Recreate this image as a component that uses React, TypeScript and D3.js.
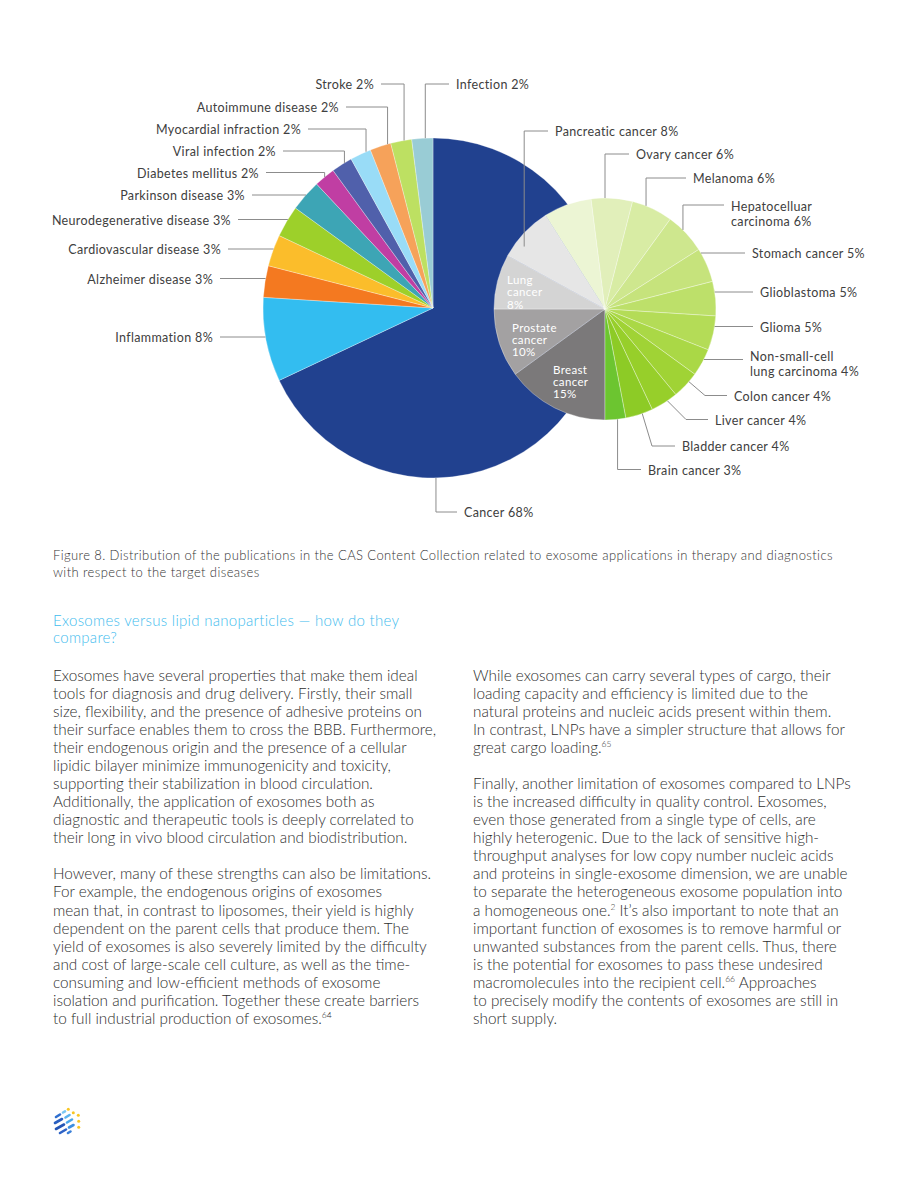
import React from 'react';
import * as d3 from 'd3';

// ---------- DATA ----------
const mainCategories = [
  'Cancer', 'Inflammation', 'Alzheimer disease', 'Cardiovascular disease',
  'Neurodegenerative disease', 'Parkinson disease', 'Diabetes mellitus',
  'Viral infection', 'Myocardial infraction', 'Autoimmune disease', 'Stroke', 'Infection',
];
const mainValues = [68, 8, 3, 3, 3, 3, 2, 2, 2, 2, 2, 2];
const mainColors = [
  '#21418f', '#33bdf0', '#f47920', '#fbbd2b', '#9dd02a', '#3da5b5',
  '#c03ea3', '#5060ab', '#99dcf7', '#f6a25a', '#bde062', '#99ccd5',
];

const subCategories = [
  'Breast cancer', 'Prostate cancer', 'Lung cancer', 'Pancreatic cancer', 'Other cancers',
  'Ovary cancer', 'Melanoma', 'Hepatocelluar carcinoma', 'Stomach cancer', 'Glioblastoma',
  'Glioma', 'Non-small-cell lung carcinoma', 'Colon cancer', 'Liver cancer', 'Bladder cancer',
  'Brain cancer',
];
const subValues = [15, 10, 8, 8, 7, 6, 6, 6, 5, 5, 5, 4, 4, 4, 4, 3];
const subColors = [
  '#7b797a', '#a3a1a2', '#d4d4d4', '#e6e6e6', '#ecf5d4', '#e1efba', '#d8eca4', '#cee78e',
  '#c6e37c', '#bde06a', '#b4dc57', '#aad846', '#a0d335', '#97cf2a', '#8dcb26', '#6cc530',
];

const captionLines = [
  'Figure 8. Distribution of the publications in the CAS Content Collection related to exosome applications in therapy and diagnostics',
  'with respect to the target diseases',
];
const headingLines = ['Exosomes versus lipid nanoparticles \u2014 how do they', 'compare?'];

const leftColumn = [
  'Exosomes have several properties that make them ideal',
  'tools for diagnosis and drug delivery. Firstly, their small',
  'size, flexibility, and the presence of adhesive proteins on',
  'their surface enables them to cross the BBB. Furthermore,',
  'their endogenous origin and the presence of a cellular',
  'lipidic bilayer minimize immunogenicity and toxicity,',
  'supporting their stabilization in blood circulation.',
  'Additionally, the application of exosomes both as',
  'diagnostic and therapeutic tools is deeply correlated to',
  'their long in vivo blood circulation and biodistribution.',
  '',
  'However, many of these strengths can also be limitations.',
  'For example, the endogenous origins of exosomes',
  'mean that, in contrast to liposomes, their yield is highly',
  'dependent on the parent cells that produce them. The',
  'yield of exosomes is also severely limited by the difficulty',
  'and cost of large-scale cell culture, as well as the time-',
  'consuming and low-efficient methods of exosome',
  'isolation and purification. Together these create barriers',
  'to full industrial production of exosomes.^64',
];
const rightColumn = [
  'While exosomes can carry several types of cargo, their',
  'loading capacity and efficiency is limited due to the',
  'natural proteins and nucleic acids present within them.',
  'In contrast, LNPs have a simpler structure that allows for',
  'great cargo loading.^65',
  '',
  'Finally, another limitation of exosomes compared to LNPs',
  'is the increased difficulty in quality control. Exosomes,',
  'even those generated from a single type of cells, are',
  'highly heterogenic. Due to the lack of sensitive high-',
  'throughput analyses for low copy number nucleic acids',
  'and proteins in single-exosome dimension, we are unable',
  'to separate the heterogeneous exosome population into',
  'a homogeneous one.^2 It\u2019s also important to note that an',
  'important function of exosomes is to remove harmful or',
  'unwanted substances from the parent cells. Thus, there',
  'is the potential for exosomes to pass these undesired',
  'macromolecules into the recipient cell.^66 Approaches',
  'to precisely modify the contents of exosomes are still in',
  'short supply.',
];

// ---------- LAYOUT ----------
const W = 920, H = 1191;
const FONT = 'Lato, "Noto Sans", sans-serif';
const main = { cx: 433, cy: 308, r: 170 };
const sub = { cx: 605, cy: 309, r: 111 };

type LabelLayout = {
  name: string; kind: 'h' | 'v' | 'd'; side: 'left' | 'right';
  lx: number; ly: number; ex?: number; angle?: number; shift?: number; rf?: number;
  brk?: number; textDy?: number;
};

const mainLabels: LabelLayout[] = [
  { name: 'Cancer', kind: 'v', side: 'right', lx: 457, ly: 512, angle: 179 },
  { name: 'Inflammation', kind: 'h', side: 'left', lx: 220, ly: 337 },
  { name: 'Alzheimer disease', kind: 'h', side: 'left', lx: 220, ly: 278.5 },
  { name: 'Cardiovascular disease', kind: 'h', side: 'left', lx: 228, ly: 249 },
  { name: 'Neurodegenerative disease', kind: 'h', side: 'left', lx: 238, ly: 219.5 },
  { name: 'Parkinson disease', kind: 'h', side: 'left', lx: 252, ly: 195 },
  { name: 'Diabetes mellitus', kind: 'v', side: 'left', lx: 266, ly: 172.5 },
  { name: 'Viral infection', kind: 'v', side: 'left', lx: 283, ly: 151, shift: 1 },
  { name: 'Myocardial infraction', kind: 'v', side: 'left', lx: 308, ly: 129, shift: 2 },
  { name: 'Autoimmune disease', kind: 'v', side: 'left', lx: 346, ly: 107, shift: 2.5 },
  { name: 'Stroke', kind: 'v', side: 'left', lx: 381, ly: 84, shift: 1 },
  { name: 'Infection', kind: 'v', side: 'right', lx: 449, ly: 84, shift: 1 },
];

const subLabels: LabelLayout[] = [
  { name: 'Pancreatic cancer', kind: 'v', side: 'right', lx: 548, ly: 131, shift: -5.5, rf: 0.92 },
  { name: 'Ovary cancer', kind: 'v', side: 'right', lx: 629, ly: 154, shift: -3.6 },
  { name: 'Melanoma', kind: 'v', side: 'right', lx: 686, ly: 178, shift: -3.5 },
  { name: 'Hepatocelluar carcinoma', kind: 'v', side: 'right', lx: 724, ly: 205, shift: -2.2, brk: 1, textDy: 1 },
  { name: 'Stomach cancer', kind: 'h', side: 'right', lx: 745, ly: 253 },
  { name: 'Glioblastoma', kind: 'h', side: 'right', lx: 753, ly: 292 },
  { name: 'Glioma', kind: 'h', side: 'right', lx: 753, ly: 326.5 },
  { name: 'Non-small-cell lung carcinoma', kind: 'h', side: 'right', lx: 743, ly: 359.5, brk: 1, textDy: -4 },
  { name: 'Colon cancer', kind: 'd', side: 'right', lx: 727, ly: 395.5, ex: 705, shift: -2.3 },
  { name: 'Liver cancer', kind: 'd', side: 'right', lx: 708, ly: 419.5, ex: 686, shift: -1.8 },
  { name: 'Bladder cancer', kind: 'd', side: 'right', lx: 675, ly: 446, ex: 652, shift: -1.6 },
  { name: 'Brain cancer', kind: 'v', side: 'right', lx: 641, ly: 469.5, shift: -1.1 },
];

const innerLabels = [
  { name: 'Lung cancer', dx: -20.5, dy: -10 },
  { name: 'Prostate cancer', dx: -17, dy: -7 },
  { name: 'Breast cancer', dx: -15.7, dy: -11.5 },
];

const deg = Math.PI / 180;
const pt = (cx: number, cy: number, r: number, a: number): [number, number] =>
  [cx + r * Math.sin(a), cy - r * Math.cos(a)];

function buildLabels(
  layout: LabelLayout[], cats: string[], vals: number[],
  arcs: d3.PieArcDatum<number>[], c: { cx: number; cy: number; r: number },
) {
  return layout.map((L) => {
    const i = cats.indexOf(L.name);
    const a = arcs[i];
    const mid = L.angle !== undefined ? L.angle * deg : (a.startAngle + a.endAngle) / 2 + (L.shift || 0) * deg;
    let path = '';
    if (L.kind === 'h') {
      const dy = L.ly - c.cy;
      const dx = Math.sqrt(Math.max(0, c.r * c.r - dy * dy));
      const ax = L.side === 'left' ? c.cx - dx : c.cx + dx;
      path = `M${ax},${L.ly}H${L.lx}`;
    } else if (L.kind === 'v') {
      const [ax, ay] = pt(c.cx, c.cy, c.r * (L.rf || 1), mid);
      path = `M${ax},${ay}V${L.ly}H${L.lx}`;
    } else {
      const [ax, ay] = pt(c.cx, c.cy, c.r * (L.rf || 1), mid);
      path = `M${ax},${ay}L${L.ex},${L.ly}H${L.lx}`;
    }
    const words = `${L.name} ${vals[i]}%`.split(' ');
    const lines = L.brk ? [words.slice(0, L.brk).join(' '), words.slice(L.brk).join(' ')] : [words.join(' ')];
    return { key: L.name, path, lines, x: L.side === 'left' ? L.lx - 7 : L.lx + 7, y: L.ly + (L.textDy || 0), anchor: L.side === 'left' ? 'end' : 'start' };
  });
}

function renderLine(s: string) {
  const parts = s.split(/\^(\d+)/);
  const out: React.ReactNode[] = [];
  let raised = false;
  parts.forEach((p, k) => {
    if (k % 2 === 0) {
      if (p) {
        out.push(<tspan key={k} dy={raised ? 6 : undefined}>{p}</tspan>);
        raised = false;
      }
    } else {
      out.push(<tspan key={k} fontSize={8.5} dy={-6}>{p}</tspan>);
      raised = true;
    }
  });
  return out;
}

export default function App() {
  const mainArcs = d3.pie<number>().sort(null).value((d) => d)(mainValues);
  const subArcs = d3.pie<number>().sort(null).value((d) => d).startAngle(Math.PI).endAngle(3 * Math.PI)(subValues);
  const mainArcGen = d3.arc<d3.PieArcDatum<number>>().innerRadius(0).outerRadius(main.r);
  const subArcGen = d3.arc<d3.PieArcDatum<number>>().innerRadius(0).outerRadius(sub.r);

  const mLabels = buildLabels(mainLabels, mainCategories, mainValues, mainArcs, main);
  const sLabels = buildLabels(subLabels, subCategories, subValues, subArcs, sub);

  const labelColor = '#404040';
  const leaderColor = '#8c8c8c';
  const bodyY0 = 680.5;
  const bodyStep = 18.08;

  // logo decoration
  const logoDots = [[68.3, 1109.3], [73.3, 1112.7], [78.3, 1115.3], [78.7, 1121.3], [78.7, 1127.3]];
  const logoDashes: [number, number, number, number, string][] = [
    [56, 1117, 60, 1114.5, '#2f6fcf'], [63, 1112.5, 65, 1111.3, '#7cc8f2'],
    [55, 1123, 62, 1119, '#2a5fc0'], [65.5, 1117.5, 69.5, 1115, '#5bb3ee'],
    [56, 1129, 64, 1124.5, '#2455b5'], [67, 1122.5, 72, 1119.5, '#4aa6ea'],
    [60, 1133, 66, 1129.5, '#2d62c6'], [69, 1127.5, 73.5, 1125, '#3d8fe0'],
    [68, 1133, 70.5, 1131.5, '#3a7fd8'],
  ];

  return (
    <svg width={W} height={H} viewBox={`0 0 ${W} ${H}`}
      style={{ position: 'absolute', left: 0, top: 0, background: '#fff' }}
      fontFamily={FONT}>
      <rect x={0} y={0} width={W} height={H} fill="#fff" />

      {/* main pie */}
      <g transform={`translate(${main.cx},${main.cy})`}>
        {mainArcs.map((a, i) => (
          <path key={mainCategories[i]} d={mainArcGen(a) || ''} fill={mainColors[i]}
            stroke="#ffffff" strokeOpacity={0.5} strokeWidth={0.6} />
        ))}
      </g>

      {/* secondary pie */}
      <g transform={`translate(${sub.cx},${sub.cy})`}>
        {subArcs.map((a, i) => (
          <path key={subCategories[i]} d={subArcGen(a) || ''} fill={subColors[i]}
            stroke="#ffffff" strokeOpacity={0.55} strokeWidth={0.6} />
        ))}
      </g>

      {/* inner labels */}
      {innerLabels.map((L) => {
        const i = subCategories.indexOf(L.name);
        const a = subArcs[i];
        const mid = (a.startAngle + a.endAngle) / 2;
        const [cx, cy] = pt(sub.cx, sub.cy, sub.r * 0.72, mid);
        const words = `${L.name} ${subValues[i]}%`.split(' ');
        return (
          <text key={L.name} x={cx + L.dx} y={cy + L.dy} fill="#ffffff" fontSize={11.5}
            dominantBaseline="central" letterSpacing={0.35}>
            {words.map((w, k) => (
              <tspan key={k} x={cx + L.dx} dy={k === 0 ? 0 : 12.2}>{w}</tspan>
            ))}
          </text>
        );
      })}

      {/* leaders and labels */}
      {[...mLabels, ...sLabels].map((l) => (
        <g key={l.key}>
          <path d={l.path} fill="none" stroke={leaderColor} strokeWidth={1} />
          <text x={l.x} y={l.y} fontSize={12.5} fill={labelColor} textAnchor={l.anchor}
            dominantBaseline="central" letterSpacing={0.35}>
            {l.lines.map((t, k) => (
              <tspan key={k} x={l.x} dy={k === 0 ? 0 : 15}>{t}</tspan>
            ))}
          </text>
        </g>
      ))}

      {/* caption */}
      {captionLines.map((t, k) => (
        <text key={t} x={53} y={560 + k * 16.5} fontSize={13} letterSpacing={0.4} fill="#333" fontWeight={300}>{t}</text>
      ))}

      {/* heading */}
      {headingLines.map((t, k) => (
        <text key={t} x={53} y={625.5 + k * 17.5} fontSize={15} letterSpacing={0.3} fill="#3fbcee" fontWeight={300}>{t}</text>
      ))}

      {/* body columns */}
      {leftColumn.map((t, k) => t ? (
        <text key={'l' + k} x={53} y={bodyY0 + k * bodyStep} fontSize={15.3} fill="#2e2e2e" fontWeight={300}>{renderLine(t)}</text>
      ) : null)}
      {rightColumn.map((t, k) => t ? (
        <text key={'r' + k} x={473} y={bodyY0 + k * bodyStep} fontSize={15.3} fill="#2e2e2e" fontWeight={300}>{renderLine(t)}</text>
      ) : null)}

      {/* logo */}
      <g>
        {logoDashes.map(([x1, y1, x2, y2, c], k) => (
          <line key={k} x1={x1} y1={y1} x2={x2} y2={y2} stroke={c} strokeWidth={2.6} strokeLinecap="round" />
        ))}
        {logoDots.map(([x, y], k) => (
          <circle key={k} cx={x} cy={y} r={1.5} fill="#f9c623" />
        ))}
      </g>
    </svg>
  );
}
